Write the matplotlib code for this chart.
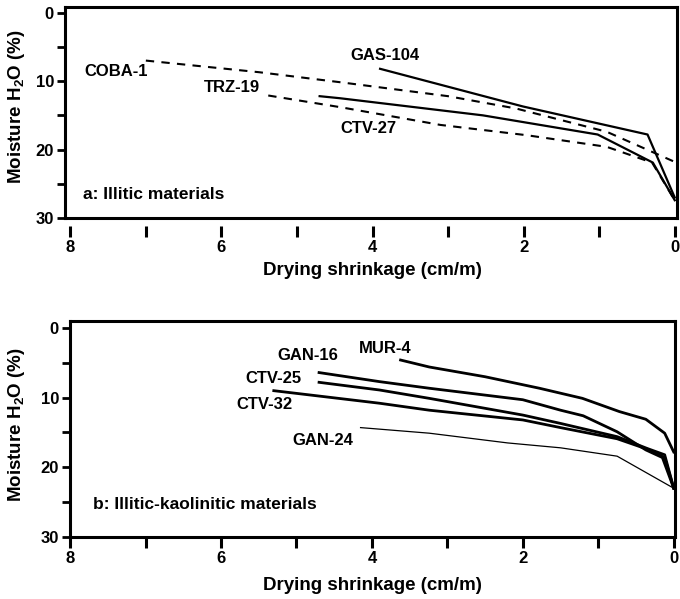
import matplotlib
matplotlib.use("Agg")
import matplotlib.pyplot as plt

plt.rcParams['font.family'] = ['Liberation Sans', 'DejaVu Sans']
plt.rcParams['font.weight'] = 'bold'
plt.rcParams['mathtext.fontset'] = 'custom'
plt.rcParams['mathtext.bf'] = 'Liberation Sans:bold'
plt.rcParams['mathtext.rm'] = 'Liberation Sans:bold'

# panel a: illitic materials (x = drying shrinkage cm/m, y = moisture %)
coba1_x = [7.0, 5.5, 4.4, 3.0, 2.1, 0.9, 0.0]
coba1_y = [7.0, 8.7, 10.2, 12.2, 14.0, 17.4, 21.8]
trz19_x = [5.38, 4.43, 3.1, 1.96, 0.9, 0.3, 0.0]
trz19_y = [12.1, 13.8, 16.4, 17.9, 19.6, 21.9, 27.4]
ctv27_x = [4.7, 4.43, 2.54, 1.02, 0.29, 0.0]
ctv27_y = [12.2, 12.5, 15.0, 17.8, 21.9, 27.4]
gas104_x = [3.9, 2.01, 0.36, 0.0]
gas104_y = [8.2, 13.7, 17.8, 27.0]

# panel b: illitic-kaolinitic materials
mur4_x = [3.62, 3.24, 2.5, 1.78, 1.21, 0.72, 0.37, 0.12, 0.0]
mur4_y = [4.6, 5.6, 7.0, 8.65, 10.1, 12.0, 13.1, 15.1, 17.8]
gan16_x = [4.7, 3.9, 3.24, 2.0, 1.5, 1.2, 0.75, 0.37, 0.15, 0.0]
gan16_y = [6.4, 7.7, 8.65, 10.3, 11.8, 12.6, 14.9, 17.5, 18.6, 23.0]
ctv25_x = [4.7, 3.9, 3.24, 2.0, 1.5, 0.75, 0.35, 0.12, 0.0]
ctv25_y = [7.8, 8.9, 10.1, 12.5, 13.7, 15.6, 17.3, 18.2, 23.0]
ctv32_x = [5.3, 3.9, 3.24, 2.0, 1.5, 0.75, 0.35, 0.12, 0.0]
ctv32_y = [9.0, 10.8, 11.8, 13.2, 14.3, 15.9, 17.4, 18.6, 23.0]
gan24_x = [4.15, 3.24, 2.2, 1.5, 0.75, 0.0]
gan24_y = [14.3, 15.1, 16.5, 17.2, 18.4, 23.0]

x_major = [8, 6, 4, 2, 0]
x_minor = [7, 5, 3, 1]
y_major = [0, 10, 20, 30]
y_minor = [5, 15, 25]

fs = 12        # curve labels, panel titles, tick labels
fs_ax = 13.5   # axis titles
ylab = r"Moisture H$_\mathbf{2}$O (%)"
xlab = "Drying shrinkage (cm/m)"

fig = plt.figure(figsize=(6.8, 5.99), dpi=100)
ax1 = fig.add_axes([0.0956, 0.636, 0.9, 0.352])
ax2 = fig.add_axes([0.103, 0.1035, 0.89, 0.3606])


def style_axes(ax):
    for s in ax.spines.values():
        s.set_linewidth(2.2)
    ax.set_xticks(x_major)
    ax.set_xticks(x_minor, minor=True)
    ax.set_yticks(y_major)
    ax.set_yticks(y_minor, minor=True)
    ax.tick_params(axis='y', which='both', direction='out', length=6, width=2,
                   labelsize=fs, pad=2)
    ax.tick_params(axis='x', which='both', direction='out', length=8, width=2.2,
                   labelsize=fs, pad=2)
    for lab in ax.get_xticklabels() + ax.get_yticklabels():
        lab.set_fontweight('bold')


# ---- panel a
ax1.plot(coba1_x, coba1_y, color='k', lw=1.5, dashes=(4, 3.5))
ax1.plot(trz19_x, trz19_y, color='k', lw=1.5, dashes=(4, 3.5))
ax1.plot(ctv27_x, ctv27_y, color='k', lw=1.6)
ax1.plot(gas104_x, gas104_y, color='k', lw=1.6)
ax1.set_xlim(8.07, -0.03)
ax1.set_ylim(30, -0.8)
style_axes(ax1)
# ticks sit a bit below the frame in this panel
ax1.spines['bottom'].set_position(('outward', 6))
ax1.spines['bottom'].set_visible(False)
ax1.plot([0, 1], [0, 0], transform=ax1.transAxes, color='k', lw=2.2,
         clip_on=False, solid_capstyle='projecting')

ax1.text(7.40, 8.6, "COBA-1", fontsize=fs, fontweight='bold', ha='center', va='center')
ax1.text(5.86, 11.0, "TRZ-19", fontsize=fs, fontweight='bold', ha='center', va='center')
ax1.text(3.84, 6.2, "GAS-104", fontsize=fs, fontweight='bold', ha='center', va='center')
ax1.text(4.05, 16.9, "CTV-27", fontsize=fs, fontweight='bold', ha='center', va='center')
ax1.text(7.83, 26.6, "a: Illitic materials", fontsize=fs + 0.5, fontweight='bold',
         ha='left', va='center')
ax1.set_ylabel(ylab, fontsize=fs_ax, fontweight='bold')
ax1.yaxis.set_label_coords(-0.062, 0.53)
ax1.set_xlabel(xlab, fontsize=fs_ax, fontweight='bold')
ax1.xaxis.set_label_coords(0.503, -0.21)

# ---- panel b
ax2.plot(mur4_x, mur4_y, color='k', lw=2.0)
ax2.plot(gan16_x, gan16_y, color='k', lw=2.0)
ax2.plot(ctv25_x, ctv25_y, color='k', lw=2.0)
ax2.plot(ctv32_x, ctv32_y, color='k', lw=2.0)
ax2.plot(gan24_x, gan24_y, color='k', lw=0.9)
ax2.set_xlim(8.0, -0.02)
ax2.set_ylim(30, -1.0)
style_axes(ax2)

ax2.text(3.82, 2.9, "MUR-4", fontsize=fs, fontweight='bold', ha='center', va='center')
ax2.text(4.85, 4.0, "GAN-16", fontsize=fs, fontweight='bold', ha='center', va='center')
ax2.text(5.30, 7.3, "CTV-25", fontsize=fs, fontweight='bold', ha='center', va='center')
ax2.text(5.42, 11.0, "CTV-32", fontsize=fs, fontweight='bold', ha='center', va='center')
ax2.text(4.65, 16.1, "GAN-24", fontsize=fs, fontweight='bold', ha='center', va='center')
ax2.text(7.70, 25.4, "b: Illitic-kaolinitic materials", fontsize=fs + 0.5, fontweight='bold',
         ha='left', va='center')
ax2.set_ylabel(ylab, fontsize=fs_ax, fontweight='bold')
ax2.yaxis.set_label_coords(-0.071, 0.52)
ax2.set_xlabel(xlab, fontsize=fs_ax, fontweight='bold')
ax2.xaxis.set_label_coords(0.50, -0.185)

fig.savefig("out.png", dpi=100)
